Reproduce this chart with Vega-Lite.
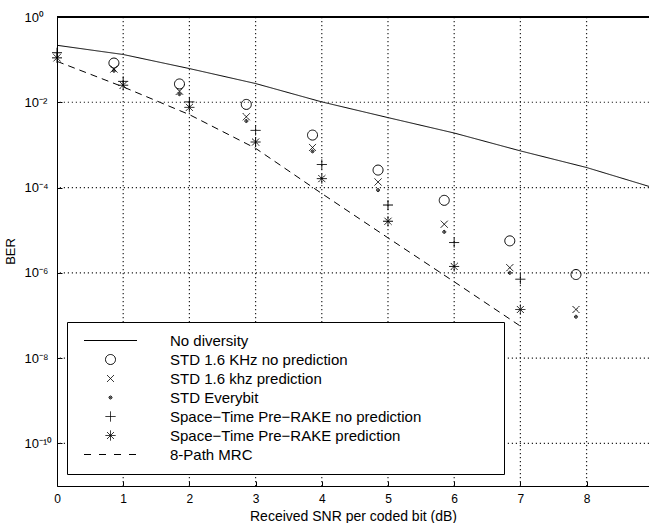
{
  "$schema": "https://vega.github.io/schema/vega-lite/v6.json",
  "width": 592,
  "height": 469,
  "autosize": {"type": "none"},
  "padding": {"left": 57, "top": 17, "right": 0, "bottom": 37},
  "config": {
    "font": "Liberation Sans",
    "view": {"stroke": null},
    "axis": {"labelColor": "black", "titleColor": "black", "tickColor": "black", "domainColor": "black", "titleFontWeight": "normal"}
  },
  "data": {"values": [
    {"series": "grid", "kind": "gx", "snr": 1},
    {"series": "grid", "kind": "gx", "snr": 2},
    {"series": "grid", "kind": "gx", "snr": 3},
    {"series": "grid", "kind": "gx", "snr": 4},
    {"series": "grid", "kind": "gx", "snr": 5},
    {"series": "grid", "kind": "gx", "snr": 6},
    {"series": "grid", "kind": "gx", "snr": 7},
    {"series": "grid", "kind": "gx", "snr": 8},
    {"series": "grid", "kind": "gy", "ber": 0.01},
    {"series": "grid", "kind": "gy", "ber": 0.0001},
    {"series": "grid", "kind": "gy", "ber": 1e-6},
    {"series": "grid", "kind": "gy", "ber": 1e-8},
    {"series": "grid", "kind": "gy", "ber": 1e-10},
    {"series": "No diversity", "kind": "line", "snr": 0, "ber": 0.217},
    {"series": "No diversity", "kind": "line", "snr": 1, "ber": 0.132},
    {"series": "No diversity", "kind": "line", "snr": 2, "ber": 0.0617},
    {"series": "No diversity", "kind": "line", "snr": 3, "ber": 0.0275},
    {"series": "No diversity", "kind": "line", "snr": 4, "ber": 0.0102},
    {"series": "No diversity", "kind": "line", "snr": 5, "ber": 0.00437},
    {"series": "No diversity", "kind": "line", "snr": 6, "ber": 0.0019},
    {"series": "No diversity", "kind": "line", "snr": 7, "ber": 0.000724},
    {"series": "No diversity", "kind": "line", "snr": 8, "ber": 0.000295},
    {"series": "No diversity", "kind": "line", "snr": 9, "ber": 0.0001},
    {"series": "8-Path MRC", "kind": "line", "snr": 0, "ber": 0.0912},
    {"series": "8-Path MRC", "kind": "line", "snr": 1, "ber": 0.0229},
    {"series": "8-Path MRC", "kind": "line", "snr": 2, "ber": 0.00513},
    {"series": "8-Path MRC", "kind": "line", "snr": 3, "ber": 0.000832},
    {"series": "8-Path MRC", "kind": "line", "snr": 4, "ber": 7.24e-5},
    {"series": "8-Path MRC", "kind": "line", "snr": 5, "ber": 6.61e-6},
    {"series": "8-Path MRC", "kind": "line", "snr": 6, "ber": 6.17e-7},
    {"series": "8-Path MRC", "kind": "line", "snr": 7, "ber": 5.62e-8},
    {"series": "STD 1.6 KHz no prediction", "kind": "point", "snr": 0.86, "ber": 0.0832},
    {"series": "STD 1.6 KHz no prediction", "kind": "point", "snr": 1.85, "ber": 0.0269},
    {"series": "STD 1.6 KHz no prediction", "kind": "point", "snr": 2.86, "ber": 0.00891},
    {"series": "STD 1.6 KHz no prediction", "kind": "point", "snr": 3.86, "ber": 0.0017},
    {"series": "STD 1.6 KHz no prediction", "kind": "point", "snr": 4.85, "ber": 0.000257},
    {"series": "STD 1.6 KHz no prediction", "kind": "point", "snr": 5.85, "ber": 5.01e-5},
    {"series": "STD 1.6 KHz no prediction", "kind": "point", "snr": 6.84, "ber": 5.62e-6},
    {"series": "STD 1.6 KHz no prediction", "kind": "point", "snr": 7.84, "ber": 9.12e-7},
    {"series": "STD 1.6 khz prediction", "kind": "point", "snr": 0.86, "ber": 0.0603},
    {"series": "STD 1.6 khz prediction", "kind": "point", "snr": 1.85, "ber": 0.0182},
    {"series": "STD 1.6 khz prediction", "kind": "point", "snr": 2.86, "ber": 0.00457},
    {"series": "STD 1.6 khz prediction", "kind": "point", "snr": 3.86, "ber": 0.000871},
    {"series": "STD 1.6 khz prediction", "kind": "point", "snr": 4.85, "ber": 0.000135},
    {"series": "STD 1.6 khz prediction", "kind": "point", "snr": 5.85, "ber": 1.38e-5},
    {"series": "STD 1.6 khz prediction", "kind": "point", "snr": 6.84, "ber": 1.32e-6},
    {"series": "STD 1.6 khz prediction", "kind": "point", "snr": 7.84, "ber": 1.38e-7},
    {"series": "STD Everybit", "kind": "point", "snr": 0.86, "ber": 0.055},
    {"series": "STD Everybit", "kind": "point", "snr": 1.85, "ber": 0.0155},
    {"series": "STD Everybit", "kind": "point", "snr": 2.86, "ber": 0.00363},
    {"series": "STD Everybit", "kind": "point", "snr": 3.86, "ber": 0.000708},
    {"series": "STD Everybit", "kind": "point", "snr": 4.85, "ber": 8.71e-5},
    {"series": "STD Everybit", "kind": "point", "snr": 5.85, "ber": 9.12e-6},
    {"series": "STD Everybit", "kind": "point", "snr": 6.84, "ber": 1.0e-6},
    {"series": "STD Everybit", "kind": "point", "snr": 7.84, "ber": 9.33e-8},
    {"series": "Space\u2212Time Pre\u2212RAKE no prediction", "kind": "point", "snr": 0, "ber": 0.145},
    {"series": "Space\u2212Time Pre\u2212RAKE no prediction", "kind": "point", "snr": 1, "ber": 0.0309},
    {"series": "Space\u2212Time Pre\u2212RAKE no prediction", "kind": "point", "snr": 2, "ber": 0.0102},
    {"series": "Space\u2212Time Pre\u2212RAKE no prediction", "kind": "point", "snr": 3, "ber": 0.00219},
    {"series": "Space\u2212Time Pre\u2212RAKE no prediction", "kind": "point", "snr": 4, "ber": 0.000347},
    {"series": "Space\u2212Time Pre\u2212RAKE no prediction", "kind": "point", "snr": 5, "ber": 3.89e-5},
    {"series": "Space\u2212Time Pre\u2212RAKE no prediction", "kind": "point", "snr": 6, "ber": 5.13e-6},
    {"series": "Space\u2212Time Pre\u2212RAKE no prediction", "kind": "point", "snr": 7, "ber": 7.08e-7},
    {"series": "Space\u2212Time Pre\u2212RAKE prediction", "kind": "point", "snr": 0, "ber": 0.11},
    {"series": "Space\u2212Time Pre\u2212RAKE prediction", "kind": "point", "snr": 1, "ber": 0.0251},
    {"series": "Space\u2212Time Pre\u2212RAKE prediction", "kind": "point", "snr": 2, "ber": 0.00759},
    {"series": "Space\u2212Time Pre\u2212RAKE prediction", "kind": "point", "snr": 3, "ber": 0.00117},
    {"series": "Space\u2212Time Pre\u2212RAKE prediction", "kind": "point", "snr": 4, "ber": 0.000162},
    {"series": "Space\u2212Time Pre\u2212RAKE prediction", "kind": "point", "snr": 5, "ber": 1.62e-5},
    {"series": "Space\u2212Time Pre\u2212RAKE prediction", "kind": "point", "snr": 6, "ber": 1.41e-6},
    {"series": "Space\u2212Time Pre\u2212RAKE prediction", "kind": "point", "snr": 7, "ber": 1.38e-7}
  ]},
  "layer": [
    {
      "transform": [{"filter": "datum.kind === 'line'"}],
      "mark": {"type": "line", "color": "black", "strokeWidth": 1, "clip": true},
      "encoding": {
        "x": {"field": "snr", "type": "quantitative",
          "scale": {"domain": [0, 8.943], "nice": false, "zero": false},
          "axis": {"orient": "bottom", "values": [0, 1, 2, 3, 4, 5, 6, 7, 8], "format": "d",
            "tickSize": -5, "domain": true, "domainWidth": 1, "grid": false,
            "labelFlush": false, "labelPadding": 12, "labelFontSize": 12,
            "title": "Received SNR per coded bit (dB)", "titleFontSize": 14, "titleY": 34.5, "titleBaseline": "alphabetic"}},
        "y": {"field": "ber", "type": "quantitative",
          "scale": {"type": "log", "domain": [1e-11, 1], "nice": false},
          "axis": {"orient": "left", "values": [1, 0.01, 0.0001, 1e-6, 1e-8, 1e-10],
            "labelExpr": "datum.value >= 0.5 ? '10\u2070' : datum.value >= 0.005 ? '10\u207b\u00b2' : datum.value >= 5e-5 ? '10\u207b\u2074' : datum.value >= 5e-7 ? '10\u207b\u2076' : datum.value >= 5e-9 ? '10\u207b\u2078' : '10\u207b\u00b9\u2070'",
            "tickSize": -5, "domain": true, "domainWidth": 1, "grid": false,
            "labelAlign": "left", "labelBaseline": "middle", "labelPadding": 38, "labelFontSize": 13,
            "title": "BER", "titleFontSize": 13, "titleX": -43, "titleY": 234, "titleBaseline": "alphabetic"}},
        "detail": {"field": "series", "type": "nominal"},
        "strokeDash": {"condition": {"test": "datum.series === '8-Path MRC'", "value": [7, 5]}, "value": [1, 0]}
      }
    },
    {
      "transform": [{"filter": "datum.kind === 'gx'"}],
      "mark": {"type": "rule", "color": "#222222", "strokeWidth": 1.2, "strokeDash": [1.2, 2.8], "opacity": 1},
      "encoding": {"x": {"field": "snr", "type": "quantitative"}}
    },
    {
      "transform": [{"filter": "datum.kind === 'gy'"}],
      "mark": {"type": "rule", "color": "#222222", "strokeWidth": 1.2, "strokeDash": [1.2, 2.8], "opacity": 1},
      "encoding": {"y": {"field": "ber", "type": "quantitative"}}
    },
    {
      "mark": {"type": "rule", "color": "black", "strokeWidth": 1},
      "encoding": {"y": {"datum": 1}}
    },
    {
      "transform": [{"filter": "datum.kind === 'point'"}],
      "mark": {"type": "point", "filled": false, "color": "black", "size": 100, "strokeWidth": 1, "opacity": 1},
      "encoding": {
        "x": {"field": "snr", "type": "quantitative"},
        "y": {"field": "ber", "type": "quantitative"},
        "shape": {"field": "series", "type": "nominal",
          "scale": {
            "domain": ["No diversity", "STD 1.6 KHz no prediction", "STD 1.6 khz prediction", "STD Everybit", "Space\u2212Time Pre\u2212RAKE no prediction", "Space\u2212Time Pre\u2212RAKE prediction", "8-Path MRC"],
            "range": [
              "M-5.3,0H5.3M76,0h0.001",
              "M1,0A1,1,0,1,1,-1,0A1,1,0,1,1,1,0Z",
              "M-0.7,-0.7L0.7,0.7M-0.7,0.7L0.7,-0.7",
              "M0.3,0A0.3,0.3,0,1,1,-0.3,0A0.3,0.3,0,1,1,0.3,0M0.1,0A0.1,0.1,0,1,1,-0.1,0A0.1,0.1,0,1,1,0.1,0",
              "M-1,0H1M0,-1V1",
              "M-1,0H1M0,-1V1M-0.7,-0.7L0.7,0.7M-0.7,0.7L0.7,-0.7",
              "M-5.3,0H5.3"
            ]},
          "legend": {
            "orient": "none", "legendX": 10, "legendY": 305,
            "title": null,
            "padding": 11, "strokeColor": "black", "fillColor": "white",
            "symbolSize": 100, "symbolOffset": 25, "symbolStrokeWidth": 1, "symbolStrokeColor": "black",
            "labelOffset": 52, "labelFontSize": 15, "labelColor": "black", "labelLimit": 500, "rowPadding": 3
          }},
        "strokeDash": {"field": "series", "type": "nominal",
          "scale": {
            "domain": ["No diversity", "STD 1.6 KHz no prediction", "STD 1.6 khz prediction", "STD Everybit", "Space\u2212Time Pre\u2212RAKE no prediction", "Space\u2212Time Pre\u2212RAKE prediction", "8-Path MRC"],
            "range": [[1, 0], [1, 0], [1, 0], [1, 0], [1, 0], [1, 0], [7, 8]]}}
      }
    }
  ]
}
